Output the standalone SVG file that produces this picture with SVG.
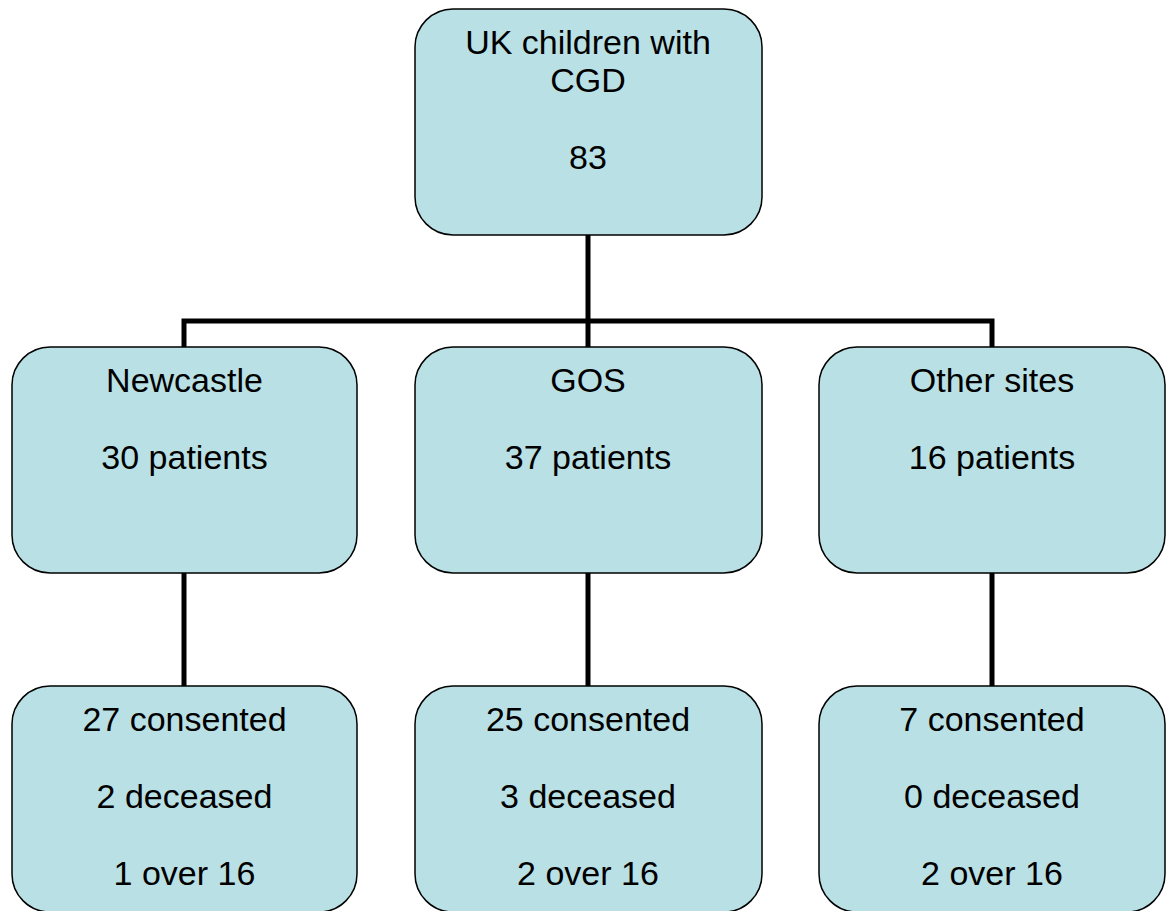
<svg xmlns="http://www.w3.org/2000/svg" width="1173" height="911" viewBox="0 0 1173 911">
<style>
.box{fill:#B9E0E4;stroke:#000;stroke-width:1.5}
.t{font-family:"Liberation Sans",Arial,sans-serif;font-size:34px;fill:#000;text-anchor:middle}
.c{stroke:#000;stroke-width:5;fill:none}
</style>
<rect width="1173" height="911" fill="#fff"/>
<g id="connectors">
<path class="c" d="M588 235V321M184 347V321H992V347M588 321V347"/>
<path class="c" d="M184 573V686M588 573V686M992 573V686"/>
</g>
<g id="root">
<rect class="box" x="415" y="9" width="347" height="226" rx="38"/>
<text class="t" x="588" y="54">UK children with</text>
<text class="t" x="588" y="92">CGD</text>
<text class="t" x="588" y="169">83</text>
</g>
<g id="newcastle">
<rect class="box" x="12" y="347" width="345" height="226" rx="38"/>
<text class="t" x="184.5" y="392">Newcastle</text>
<text class="t" x="184.5" y="469">30 patients</text>
</g>
<g id="gos">
<rect class="box" x="415" y="347" width="347" height="226" rx="38"/>
<text class="t" x="588" y="392">GOS</text>
<text class="t" x="588" y="469">37 patients</text>
</g>
<g id="other">
<rect class="box" x="819" y="347" width="346" height="226" rx="38"/>
<text class="t" x="992" y="392">Other sites</text>
<text class="t" x="992" y="469">16 patients</text>
</g>
<g id="newcastle-out">
<rect class="box" x="12" y="686" width="345" height="226" rx="38"/>
<text class="t" x="184.5" y="731">27 consented</text>
<text class="t" x="184.5" y="808">2 deceased</text>
<text class="t" x="184.5" y="885">1 over 16</text>
</g>
<g id="gos-out">
<rect class="box" x="415" y="686" width="347" height="226" rx="38"/>
<text class="t" x="588" y="731">25 consented</text>
<text class="t" x="588" y="808">3 deceased</text>
<text class="t" x="588" y="885">2 over 16</text>
</g>
<g id="other-out">
<rect class="box" x="819" y="686" width="346" height="226" rx="38"/>
<text class="t" x="992" y="731">7 consented</text>
<text class="t" x="992" y="808">0 deceased</text>
<text class="t" x="992" y="885">2 over 16</text>
</g>
</svg>
